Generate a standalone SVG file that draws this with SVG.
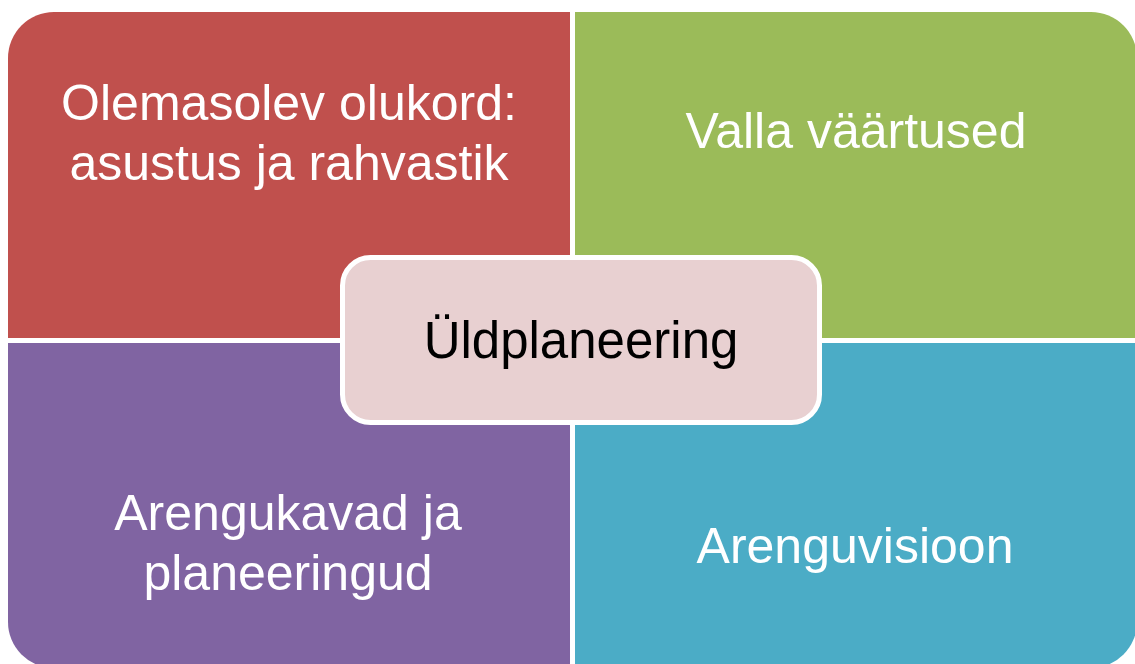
<svg xmlns="http://www.w3.org/2000/svg" width="1135" height="664" viewBox="0 0 1135 664">
<style>
.lbl{font-family:"Liberation Sans",Arial,sans-serif;font-size:50px;fill:#ffffff;text-anchor:middle}
.ctr{font-family:"Liberation Sans",Arial,sans-serif;font-size:51px;fill:#000000;text-anchor:middle}
</style>
<rect width="1135" height="664" fill="#ffffff"/>
<g id="node-olukord">
<path d="M8,58 A46,46 0 0 1 54,12 H570 V338 H8 Z" fill="#C0504D"/>
<text class="lbl" x="289" y="120">Olemasolev olukord:</text>
<text class="lbl" x="289" y="180">asustus ja rahvastik</text>
</g>
<g id="node-vaartused">
<path d="M575,12 H1091 A46,46 0 0 1 1137,58 V338 H575 Z" fill="#9BBB59"/>
<text class="lbl" x="856" y="148">Valla väärtused</text>
</g>
<g id="node-arengukavad">
<path d="M8,343 H570 V668 H54 A46,46 0 0 1 8,622 Z" fill="#8064A2"/>
<text class="lbl" x="288" y="530">Arengukavad ja</text>
<text class="lbl" x="288" y="590">planeeringud</text>
</g>
<g id="node-arenguvisioon">
<path d="M575,343 H1137 V622 A46,46 0 0 1 1091,668 H575 Z" fill="#4BACC6"/>
<text class="lbl" x="855" y="563">Arenguvisioon</text>
</g>
<g id="connectors"></g>
<g id="node-uldplaneering">
<rect x="342.5" y="257.5" width="477" height="165" rx="28" ry="28" fill="#E8D0D1" stroke="#ffffff" stroke-width="5"/>
<text class="ctr" x="581" y="358">Üldplaneering</text>
</g>
</svg>
